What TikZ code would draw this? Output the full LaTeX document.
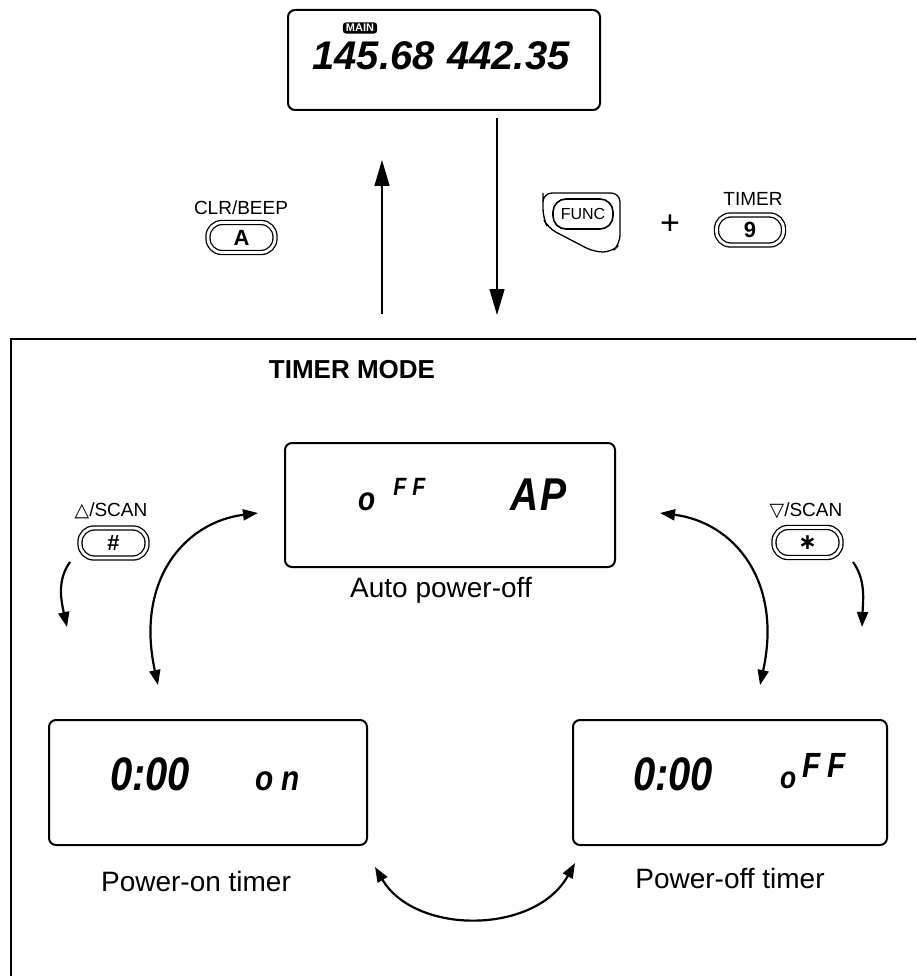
\documentclass[tikz,border=0pt]{standalone}
\usepackage{fontspec}
\setmainfont{Liberation Sans}
\newfontfamily\lcdfont{Liberation Sans}[FakeStretch=0.85]
\newfontfamily\symfont{DejaVu Sans}
\usetikzlibrary{arrows.meta}
\begin{document}
\begin{tikzpicture}[x=1pt,y=-1pt,
  lcd/.style={draw, line width=2pt, rounded corners=7pt, inner sep=0pt},
  keypill/.style={draw, double, line width=1.3pt, double distance=2.8pt, rounded corners=14pt,
    minimum width=67pt, minimum height=30pt, inner sep=0pt, font=\fontsize{22}{22}\selectfont\bfseries},
  keycap/.style={inner sep=0pt, font=\fontsize{19}{19}\selectfont},
  caption/.style={inner sep=0pt, font=\fontsize{28}{28}\selectfont},
  seg/.style={inner sep=0pt, font=\lcdfont\bfseries\itshape},
  segw/.style={inner sep=0pt, font=\bfseries\itshape\fontsize{40}{40}\selectfont},
  bigarrow/.style={line width=1.5pt, -{Triangle[width=15pt,length=26pt]}},
  curvearrow/.style={line width=2.2pt, {Triangle[width=11pt,length=15pt]}-{Triangle[width=11pt,length=15pt]}},
  smallarrow/.style={line width=2.2pt, -{Triangle[width=11pt,length=15pt]}}
]
\useasboundingbox (0,0) rectangle (916,976);
\clip (0,0) rectangle (916,976);

% ---------- main display ----------
\node[lcd, minimum width=312pt, minimum height=100pt] (top) at (444,60) {};
\node[fill=black, text=white, rounded corners=3pt, inner xsep=3pt, inner ysep=1.8pt,
      font=\fontsize{11}{11}\selectfont\bfseries] (mainbadge) at (360,28) {MAIN};
\node[segw, anchor=base east] (freqA) at (435,70) {145.68};
\node[segw, anchor=base west] (freqB) at (447,70) {442.35};

% ---------- vertical arrows ----------
\coordinate (upS) at (382,314);
\coordinate (upE) at (382,160);
\coordinate (dnS) at (497,118);
\coordinate (dnE) at (497,315);
\draw[bigarrow] (upS) -- (upE);
\draw[bigarrow] (dnS) -- (dnE);

% ---------- keys near top ----------
\node[keycap] (clrlbl) at (241,208) {CLR/BEEP};
\node[keypill] (keyA) at (241.5,237.5) {A};

\draw[line width=1.3pt, rounded corners=9pt]
  (543,202) -- (543,193) -- (620,193) -- (620,244) -- (612,252) -- (594,252) -- (548,228) -- (543,218) -- cycle;
\node[draw, line width=1.6pt, rounded corners=13pt, minimum width=60pt, minimum height=30pt,
      inner sep=0pt, font=\fontsize{16}{16}\selectfont] (func) at (583,214) {FUNC};
\node[inner sep=0pt, font=\fontsize{34}{34}\selectfont] (plus) at (670,225) {+};
\node[keycap] (timerlbl) at (753,199) {TIMER};
\node[keypill] (key9) at (750,230) {9};

% ---------- timer mode frame ----------
\coordinate (frBL) at (11,976);
\coordinate (frTL) at (11,339);
\coordinate (frTR) at (916,339);
\draw[line width=2.5pt] (frBL) -- (frTL) -- (frTR);
\node[inner sep=0pt, font=\fontsize{26}{26}\selectfont\bfseries] (title) at (352,370) {TIMER MODE};

% ---------- auto power-off ----------
\node[lcd, minimum width=330pt, minimum height=124pt] (mid) at (450,505) {};
\node[seg, anchor=base west] (midoff) at (358,510)
  {\fontsize{33}{33}\selectfont o\kern18pt\raisebox{15pt}{\fontsize{25}{25}\selectfont F\kern6pt F}};
\node[seg, anchor=base west, font=\lcdfont\bfseries\itshape\fontsize{46}{46}\selectfont] (midap) at (510,510) {A\kern2pt P};
\node[caption] (midcap) at (441,590) {Auto power-off};

% ---------- scan keys ----------
\node[keycap] (uplbl) at (111,511) {{\symfont △}/SCAN};
\node[keypill] (keyH) at (113.5,543) {\#};
\node[keycap] (dnlbl) at (806,511) {{\symfont ▽}/SCAN};
\node[keypill] (keyS) at (807.5,542.5) {\symfont\bfseries ∗};

\coordinate (saL1) at (70,562);
\coordinate (saL2) at (67,627);
\draw[smallarrow] (saL1) .. controls (57,580) and (61,600) .. (saL2);
\coordinate (saR1) at (853,562);
\coordinate (saR2) at (862,627);
\draw[smallarrow] (saR1) .. controls (866,580) and (863,600) .. (saR2);

% ---------- power-on / power-off ----------
\node[lcd, minimum width=318pt, minimum height=125pt] (pon) at (208,782.5) {};
\node[seg, anchor=base west, font=\lcdfont\bfseries\itshape\fontsize{47}{47}\selectfont] (pontime) at (110,790) {0:00};
\node[seg, anchor=base west, font=\lcdfont\bfseries\itshape\fontsize{35}{35}\selectfont] (ponon) at (255,790) {o\kern8pt n};
\node[caption] (poncap) at (196,881) {Power-on timer};

\node[lcd, minimum width=314pt, minimum height=125pt] (poff) at (730,782.5) {};
\node[seg, anchor=base west, font=\lcdfont\bfseries\itshape\fontsize{47}{47}\selectfont] (pofftime) at (633,790) {0:00};
\node[seg, anchor=base west] (poffoff) at (780,788)
  {\fontsize{31}{31}\selectfont o\kern6pt\raisebox{11pt}{\fontsize{35}{35}\selectfont F\kern7pt F}};
\node[caption] (poffcap) at (730,878) {Power-off timer};

% ---------- cycle arrows ----------
\coordinate (arcLa) at (258,513);
\coordinate (arcLb) at (158,685);
\draw[curvearrow] (arcLa) .. controls (185,522) and (135,580) .. (arcLb);
\coordinate (arcRa) at (660,513);
\coordinate (arcRb) at (760,685);
\draw[curvearrow] (arcRa) .. controls (733,522) and (783,580) .. (arcRb);
\coordinate (arcBa) at (375,867);
\coordinate (arcBb) at (575,863);
\draw[curvearrow] (arcBa) .. controls (415,935) and (535,935) .. (arcBb);
\end{tikzpicture}
\end{document}
